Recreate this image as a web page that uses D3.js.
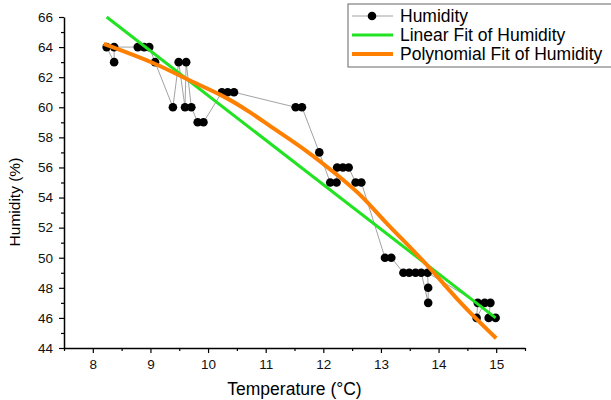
<!DOCTYPE html>
<html>
<head>
<meta charset="utf-8">
<script src="https://cdn.jsdelivr.net/npm/d3@7"></script>
<style>
  body { margin: 0; background: #fff; }
  svg { font-family: 'Liberation Sans', Arial, sans-serif; }
</style>
</head>
<body>
<div id="wrapper"></div>
<script>
// measured temperature / humidity pairs, in plotting order
const temperature = [8.24, 8.37, 8.37, 8.78, 8.89, 8.98, 9.08, 9.39, 9.49, 9.6, 9.62, 9.71, 9.82, 9.92,
  10.24, 10.34, 10.45, 11.52, 11.63, 11.93, 12.12, 12.23, 12.24, 12.34, 12.44, 12.56, 12.66,
  13.07, 13.18, 13.39, 13.49, 13.6, 13.7, 13.82, 13.82, 13.81, 14.68, 14.66, 14.8, 14.9, 14.87, 14.99]
const humidity = [64, 63, 64, 64, 64, 64, 63, 60, 63, 60, 63, 60, 59, 59,
  61, 61, 61, 60, 60, 57, 55, 55, 56, 56, 56, 55, 55,
  50, 50, 49, 49, 49, 49, 47, 48, 49, 47, 46, 47, 47, 46, 46]

// fit lines
const linearFitX = [8.24, 14.99]
const linearFitY = [66.0, 46.0]
const polyFitX = [8.19, 9.1, 9.62, 10.25, 10.72, 11.13, 11.7, 12.28, 12.72, 13.03, 13.79, 14.37, 15.0]
const polyFitY = [64.21, 62.92, 61.86, 60.82, 59.71, 58.6, 57.16, 55.39, 53.95, 52.51, 49.63, 46.98, 44.65]

const xTicks = [8, 9, 10, 11, 12, 13, 14, 15]
const xMinorTicks = [7.5, 8.5, 9.5, 10.5, 11.5, 12.5, 13.5, 14.5, 15.5]
const yTicks = [44, 46, 48, 50, 52, 54, 56, 58, 60, 62, 64, 66]
const yMinorTicks = [45, 47, 49, 51, 53, 55, 57, 59, 61, 63, 65]

const legendItems = ['Humidity', 'Linear Fit of Humidity', 'Polynomial Fit of Humidity']

const dimensions = {
  width: 611,
  height: 400,
  margin: { top: 17, right: 86, bottom: 52, left: 64 },
}
dimensions.boundedWidth = dimensions.width - dimensions.margin.left - dimensions.margin.right
dimensions.boundedHeight = dimensions.height - dimensions.margin.top - dimensions.margin.bottom

const svg = d3.select('#wrapper')
  .append('svg')
  .attr('width', dimensions.width)
  .attr('height', dimensions.height)

const bounds = svg.append('g')
  .attr('transform', `translate(${dimensions.margin.left},${dimensions.margin.top})`)

const xScale = d3.scaleLinear().domain([7.5, 15.5]).range([0, dimensions.boundedWidth])
const yScale = d3.scaleLinear().domain([44, 66]).range([dimensions.boundedHeight, 0])

const points = temperature.map((t, i) => ({ t, h: humidity[i] }))
const linearFit = linearFitX.map((t, i) => ({ t, h: linearFitY[i] }))
const polyFit = polyFitX.map((t, i) => ({ t, h: polyFitY[i] }))

const lineGen = d3.line().x(d => xScale(d.t)).y(d => yScale(d.h))

// data connector
bounds.append('path')
  .datum(points)
  .attr('d', lineGen)
  .attr('fill', 'none')
  .attr('stroke', '#8a8a8a')
  .attr('stroke-width', 0.8)

// markers
bounds.append('g')
  .selectAll('circle')
  .data(points)
  .join('circle')
  .attr('cx', d => xScale(d.t))
  .attr('cy', d => yScale(d.h))
  .attr('r', 4.3)
  .attr('fill', '#000')

// fits
bounds.append('path')
  .datum(linearFit)
  .attr('d', lineGen)
  .attr('fill', 'none')
  .attr('stroke', '#22e322')
  .attr('stroke-width', 3)

bounds.append('path')
  .datum(polyFit)
  .attr('d', d3.line().x(d => xScale(d.t)).y(d => yScale(d.h)).curve(d3.curveBasis))
  .attr('fill', 'none')
  .attr('stroke', '#ff7f00')
  .attr('stroke-width', 4)

// axes
bounds.append('g')
  .attr('transform', `translate(0,${dimensions.boundedHeight})`)
  .call(d3.axisBottom(xScale).tickValues(xTicks).tickSize(5).tickSizeOuter(0).tickPadding(6))
bounds.append('g')
  .attr('transform', `translate(0,${dimensions.boundedHeight})`)
  .call(d3.axisBottom(xScale).tickValues(xMinorTicks).tickSize(3).tickSizeOuter(0).tickFormat(''))
  .select('.domain').remove()

bounds.append('g')
  .call(d3.axisLeft(yScale).tickValues(yTicks).tickSize(5).tickSizeOuter(0).tickPadding(6))
bounds.append('g')
  .call(d3.axisLeft(yScale).tickValues(yMinorTicks).tickSize(3).tickSizeOuter(0).tickFormat(''))
  .select('.domain').remove()

bounds.selectAll('.domain').attr('stroke-width', 1.5)
bounds.selectAll('.tick line').attr('stroke-width', 1.2)
bounds.selectAll('.tick text')
  .attr('font-size', 13.5)
  .attr('font-family', "'Liberation Sans', Arial, sans-serif")
  .attr('fill', '#111')

// axis labels
bounds.append('text')
  .attr('x', dimensions.boundedWidth / 2)
  .attr('y', dimensions.boundedHeight + 47)
  .attr('text-anchor', 'middle')
  .attr('font-size', 17.5)
  .text('Temperature (°C)')

bounds.append('text')
  .attr('transform', `translate(${-44},${yScale(53.7)}) rotate(-90)`)
  .attr('text-anchor', 'middle')
  .attr('font-size', 15.5)
  .text('Humidity (%)')

// legend
const legend = svg.append('g').attr('transform', 'translate(348,4)')
legend.append('rect')
  .attr('width', 270)
  .attr('height', 63)
  .attr('fill', '#fff')
  .attr('stroke', '#666')
  .attr('stroke-width', 1)

const rowY = [12, 31, 50]
legendItems.forEach((label, i) => {
  const row = legend.append('g').attr('transform', `translate(0,${rowY[i]})`)
  if (i === 0) {
    row.append('line').attr('x1', 4).attr('x2', 45).attr('stroke', '#8a8a8a').attr('stroke-width', 0.8)
    row.append('circle').attr('cx', 24).attr('r', 4.3).attr('fill', '#000')
  } else {
    row.append('line').attr('x1', 4).attr('x2', 45)
      .attr('stroke', i === 1 ? '#22e322' : '#ff7f00')
      .attr('stroke-width', i === 1 ? 3 : 4)
  }
  row.append('text')
    .attr('x', 52)
    .attr('dy', '0.35em')
    .attr('font-size', 17.5)
    .text(label)
})
</script>
</body>
</html>
